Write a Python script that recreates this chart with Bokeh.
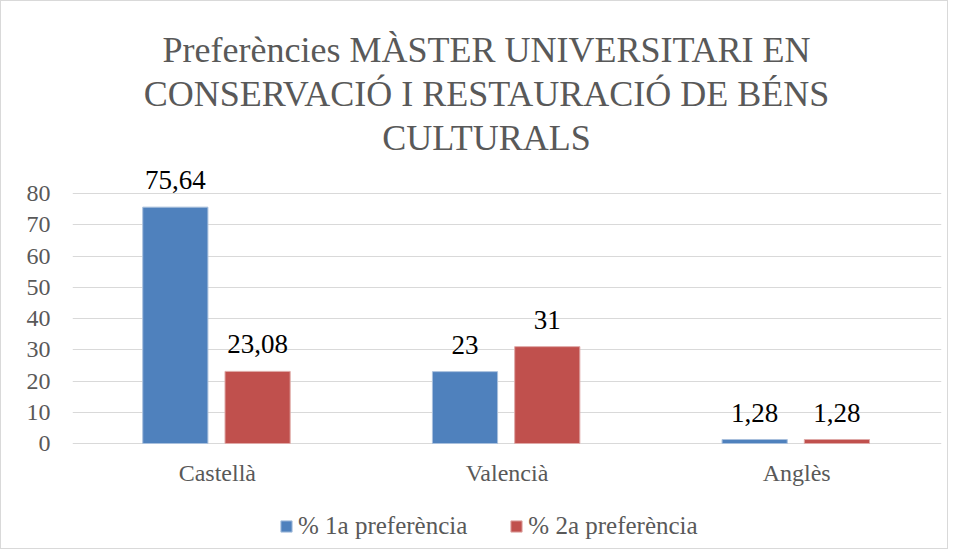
from bokeh.plotting import figure
from bokeh.models import (ColumnDataSource, Range1d, FactorRange, LabelSet, Legend,
                          LegendItem, Label, FixedTicker)
from bokeh.transform import dodge
from bokeh.embed import file_html
from bokeh.resources import INLINE

categories = ["Castellà", "Valencià", "Anglès"]
pref1 = [75.64, 23, 1.28]
pref2 = [23.08, 31, 1.28]
label1 = ["75,64", "23", "1,28"]
label2 = ["23,08", "31", "1,28"]
series_names = ["% 1a preferència", "% 2a preferència"]
y_ticks = [0, 10, 20, 30, 40, 50, 60, 70, 80]
title_lines = ["Preferències MÀSTER UNIVERSITARI EN",
               "CONSERVACIÓ I RESTAURACIÓ DE BÉNS",
               "CULTURALS"]

FONT = "Liberation Serif"
GREY = "#595959"
BLUE = "#4f81bd"
RED = "#c0504d"

H = 549
# value axis: 0 at 442px from top, 80 at 192px from top (3.125 px per unit)
PX_PER_UNIT = 250 / 80
Y_START = -(H - 442) / PX_PER_UNIT
Y_END = 80 + 192 / PX_PER_UNIT

src = ColumnDataSource(dict(cat=categories, p1=pref1, p2=pref2, l1=label1, l2=label2))

p = figure(width=948, height=H, x_range=FactorRange(factors=categories),
           y_range=Range1d(Y_START, Y_END), output_backend="svg", toolbar_location=None,
           min_border_left=71, min_border_right=8, min_border_top=0,
           min_border_bottom=0, styles={"border": "1px solid #d9d9d9"})
p.title = None
p.background_fill_color = "white"
p.border_fill_color = "white"
p.outline_line_color = None

# title lines, placed relative to the plot frame (screen units, y up from bottom)
title_y = [501, 457, 413]
for line, ty in zip(title_lines, title_y):
    p.add_layout(Label(x=414, y=ty, x_units="screen", y_units="screen", text=line,
                       text_align="center", text_baseline="alphabetic",
                       text_font=FONT, text_font_size="36px", text_color=GREY))

r1 = p.vbar(x=dodge("cat", -0.145, range=p.x_range), top="p1", bottom=0, width=0.225,
            source=src, fill_color=BLUE, line_color="#a9c0dd", line_width=1)
r2 = p.vbar(x=dodge("cat", 0.139, range=p.x_range), top="p2", bottom=0, width=0.225,
            source=src, fill_color=RED, line_color="#dfa9a7", line_width=1)

for col, lab, off in (("p1", "l1", -0.145), ("p2", "l2", 0.139)):
    p.add_layout(LabelSet(x=dodge("cat", off, range=p.x_range), y=col, text=lab,
                          source=src, text_align="center", text_baseline="alphabetic",
                          y_offset=18, text_font=FONT, text_font_size="27px",
                          text_color="black"))

p.xgrid.grid_line_color = None
p.ygrid.grid_line_color = "#d9d9d9"
p.ygrid.grid_line_width = 1
p.yaxis.ticker = FixedTicker(ticks=y_ticks)
p.xaxis.fixed_location = 0

for ax in (p.xaxis[0], p.yaxis[0]):
    ax.axis_line_color = None
    ax.major_tick_line_color = None
    ax.minor_tick_line_color = None
    ax.major_tick_in = 0
    ax.major_tick_out = 0
    ax.minor_tick_in = 0
    ax.minor_tick_out = 0
    ax.major_label_text_font = FONT
    ax.major_label_text_color = GREY
p.xaxis.major_label_text_font_size = "24px"
p.yaxis.major_label_text_font_size = "24px"
p.xaxis.major_label_standoff = 16
p.yaxis.major_label_standoff = 22

legend = Legend(items=[LegendItem(label=series_names[0], renderers=[r1]),
                       LegendItem(label=series_names[1], renderers=[r2])],
                orientation="horizontal", location=(207, 10),
                label_text_font=FONT, label_text_font_size="25px",
                label_text_color=GREY, glyph_width=14, glyph_height=14,
                spacing=42, padding=0, margin=0, border_line_color=None,
                background_fill_alpha=0, label_standoff=5)
p.add_layout(legend, "center")

open("out.html", "w").write(file_html(p, INLINE))
